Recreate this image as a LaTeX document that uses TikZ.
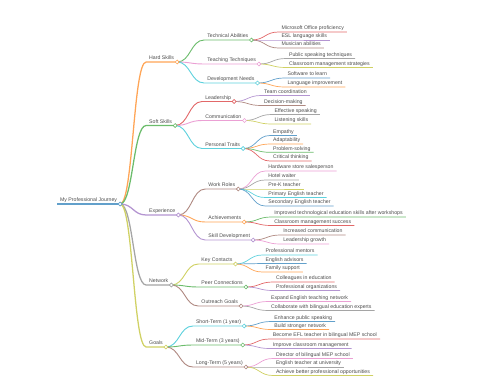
\documentclass[tikz,border=0pt]{standalone}
\usepackage{fontspec}
\setmainfont{Liberation Sans}
\usepackage{tikz}
\usetikzlibrary{calc,backgrounds}

\definecolor{mmblue}{HTML}{62A0CB}
\definecolor{mmorange}{HTML}{FFA556}
\definecolor{mmgreen}{HTML}{6BBC6B}
\definecolor{mmred}{HTML}{E26869}
\definecolor{mmpurple}{HTML}{B495D1}
\definecolor{mmbrown}{HTML}{AF8981}
\definecolor{mmpink}{HTML}{EBA0D4}
\definecolor{mmgray}{HTML}{A5A5A5}
\definecolor{mmolive}{HTML}{D0D164}
\definecolor{mmcyan}{HTML}{5DD1DD}

\begin{document}
\begin{tikzpicture}[x=0.5mm, y=-0.5mm,
    topic/.style={anchor=south west, inner xsep=4.2pt, inner ysep=2.8pt, text depth=0pt, font=\fontsize{7.4}{9}\selectfont, text=black!70},
    link/.style={to path={.. controls ($(\tikztostart)!0.5!(\tikztostart -| \tikztotarget)$) and ($(\tikztotarget)!0.5!(\tikztotarget -| \tikztostart)$) .. (\tikztotarget)}},
    l0/.style={line width=2.4pt},
    l1/.style={link, line width=1.8pt},
    l2/.style={link, line width=1.3pt},
    l3/.style={link, line width=1pt},
    dot/.style={fill=white, line width=0.9pt}
]
\useasboundingbox (0,0) rectangle (480,384);

% root and main branches
\node[topic] (root) at (57,204) {My Professional Journey};
\node[topic] (hard) at ($(root.south east)+(26,-142)$) {Hard Skills};
\node[topic] (soft) at ($(root.south east)+(26,-78.5)$) {Soft Skills};
\node[topic] (exper) at ($(root.south east)+(26,11)$) {Experience};
\node[topic] (netw) at ($(root.south east)+(26,81)$) {Network};
\node[topic] (goals) at ($(root.south east)+(26,143)$) {Goals};

% hard skills
\node[topic] (tech) at ($(hard.south east)+(27,-22)$) {Technical Abilities};
\node[topic] (teach) at ($(hard.south east)+(27,2)$) {Teaching Techniques};
\node[topic] (devn) at ($(hard.south east)+(27,21)$) {Development Needs};
\node[topic] (msoff) at ($(tech.south east)+(27,-8)$) {Microsoft Office proficiency};
\node[topic] (esl) at ($(tech.south east)+(27,0)$) {ESL language skills};
\node[topic] (music) at ($(tech.south east)+(27,8)$) {Musician abilities};
\node[topic] (pubsp) at ($(teach.south east)+(27,-5.5)$) {Public speaking techniques};
\node[topic] (clstr) at ($(teach.south east)+(27,3.5)$) {Classroom management strategies};
\node[topic] (softw) at ($(devn.south east)+(27,-5)$) {Software to learn};
\node[topic] (langi) at ($(devn.south east)+(27,4)$) {Language improvement};

% soft skills
\node[topic] (lead) at ($(soft.south east)+(27,-24)$) {Leadership};
\node[topic] (comm) at ($(soft.south east)+(27,-5)$) {Communication};
\node[topic] (pers) at ($(soft.south east)+(27,23)$) {Personal Traits};
\node[topic] (teamc) at ($(lead.south east)+(27,-6)$) {Team coordination};
\node[topic] (decis) at ($(lead.south east)+(27,4)$) {Decision-making};
\node[topic] (effsp) at ($(comm.south east)+(27,-6)$) {Effective speaking};
\node[topic] (listn) at ($(comm.south east)+(27,3.5)$) {Listening skills};
\node[topic] (empat) at ($(pers.south east)+(27,-13)$) {Empathy};
\node[topic] (adapt) at ($(pers.south east)+(27,-4.5)$) {Adaptability};
\node[topic] (probl) at ($(pers.south east)+(27,3.8)$) {Problem-solving};
\node[topic] (critt) at ($(pers.south east)+(27,12.5)$) {Critical thinking};

% experience
\node[topic] (work) at ($(exper.south east)+(27,-26)$) {Work Roles};
\node[topic] (achv) at ($(exper.south east)+(27,7)$) {Achievements};
\node[topic] (skill) at ($(exper.south east)+(27,25)$) {Skill Development};
\node[topic] (hwsal) at ($(work.south east)+(27,-18)$) {Hardware store salesperson};
\node[topic] (hotel) at ($(work.south east)+(27,-9)$) {Hotel waiter};
\node[topic] (prek) at ($(work.south east)+(27,0)$) {Pre-K teacher};
\node[topic] (prim) at ($(work.south east)+(27,8.5)$) {Primary English teacher};
\node[topic] (secon) at ($(work.south east)+(27,17)$) {Secondary English teacher};
\node[topic] (teched) at ($(achv.south east)+(27,-5)$) {Improved technological education skills after workshops};
\node[topic] (clsucc) at ($(achv.south east)+(27,3.5)$) {Classroom management success};
\node[topic] (incom) at ($(skill.south east)+(27,-5)$) {Increased communication};
\node[topic] (leadg) at ($(skill.south east)+(27,4)$) {Leadership growth};

% network
\node[topic] (key) at ($(netw.south east)+(27,-21)$) {Key Contacts};
\node[topic] (peer) at ($(netw.south east)+(27,2)$) {Peer Connections};
\node[topic] (outr) at ($(netw.south east)+(27,21)$) {Outreach Goals};
\node[topic] (mentr) at ($(key.south east)+(27,-9)$) {Professional mentors};
\node[topic] (advis) at ($(key.south east)+(27,-0.5)$) {English advisors};
\node[topic] (famil) at ($(key.south east)+(27,8)$) {Family support};
\node[topic] (collg) at ($(peer.south east)+(27,-5)$) {Colleagues in education};
\node[topic] (proforg) at ($(peer.south east)+(27,3.5)$) {Professional organizations};
\node[topic] (expnd) at ($(outr.south east)+(27,-4.5)$) {Expand English teaching network};
\node[topic] (collab) at ($(outr.south east)+(27,4.5)$) {Collaborate with bilingual education experts};

% goals
\node[topic] (short) at ($(goals.south east)+(27,-21)$) {Short-Term (1 year)};
\node[topic] (mid) at ($(goals.south east)+(27,-2)$) {Mid-Term (3 years)};
\node[topic] (long) at ($(goals.south east)+(27,20)$) {Long-Term (5 years)};
\node[topic] (enhan) at ($(short.south east)+(27,-4.5)$) {Enhance public speaking};
\node[topic] (build) at ($(short.south east)+(27,3.5)$) {Build stronger network};
\node[topic] (efl) at ($(mid.south east)+(27,-6)$) {Become EFL teacher in bilingual MEP school};
\node[topic] (imprv) at ($(mid.south east)+(27,3.5)$) {Improve classroom management};
\node[topic] (direc) at ($(long.south east)+(27,-8.5)$) {Director of bilingual MEP school};
\node[topic] (univ) at ($(long.south east)+(27,0)$) {English teacher at university};
\node[topic] (opport) at ($(long.south east)+(27,8.5)$) {Achieve better professional opportunities};

\begin{scope}[on background layer]
\draw[l0, mmblue] (root.south west) -- (root.south east);
\draw[l1, mmorange] (root.south east) to (hard.south west) -- (hard.south east);
\draw[l1, mmgreen] (root.south east) to (soft.south west) -- (soft.south east);
\draw[l1, mmpurple] (root.south east) to (exper.south west) -- (exper.south east);
\draw[l1, mmgray] (root.south east) to (netw.south west) -- (netw.south east);
\draw[l1, mmolive] (root.south east) to (goals.south west) -- (goals.south east);
% hard skills
\draw[l2, mmgreen] (hard.south east) to (tech.south west) -- (tech.south east);
\draw[l2, mmpink] (hard.south east) to (teach.south west) -- (teach.south east);
\draw[l2, mmcyan] (hard.south east) to (devn.south west) -- (devn.south east);
\draw[l3, mmred] (tech.south east) to (msoff.south west) -- (msoff.south east);
\draw[l3, mmpurple] (tech.south east) to (esl.south west) -- (esl.south east);
\draw[l3, mmbrown] (tech.south east) to (music.south west) -- (music.south east);
\draw[l3, mmgray] (teach.south east) to (pubsp.south west) -- (pubsp.south east);
\draw[l3, mmolive] (teach.south east) to (clstr.south west) -- (clstr.south east);
\draw[l3, mmblue] (devn.south east) to (softw.south west) -- (softw.south east);
\draw[l3, mmorange] (devn.south east) to (langi.south west) -- (langi.south east);
% soft skills
\draw[l2, mmred] (soft.south east) to (lead.south west) -- (lead.south east);
\draw[l2, mmpink] (soft.south east) to (comm.south west) -- (comm.south east);
\draw[l2, mmcyan] (soft.south east) to (pers.south west) -- (pers.south east);
\draw[l3, mmpurple] (lead.south east) to (teamc.south west) -- (teamc.south east);
\draw[l3, mmbrown] (lead.south east) to (decis.south west) -- (decis.south east);
\draw[l3, mmgray] (comm.south east) to (effsp.south west) -- (effsp.south east);
\draw[l3, mmolive] (comm.south east) to (listn.south west) -- (listn.south east);
\draw[l3, mmblue] (pers.south east) to (empat.south west) -- (empat.south east);
\draw[l3, mmorange] (pers.south east) to (adapt.south west) -- (adapt.south east);
\draw[l3, mmgreen] (pers.south east) to (probl.south west) -- (probl.south east);
\draw[l3, mmred] (pers.south east) to (critt.south west) -- (critt.south east);
% experience
\draw[l2, mmbrown] (exper.south east) to (work.south west) -- (work.south east);
\draw[l2, mmorange] (exper.south east) to (achv.south west) -- (achv.south east);
\draw[l2, mmpurple] (exper.south east) to (skill.south west) -- (skill.south east);
\draw[l3, mmpink] (work.south east) to (hwsal.south west) -- (hwsal.south east);
\draw[l3, mmgray] (work.south east) to (hotel.south west) -- (hotel.south east);
\draw[l3, mmolive] (work.south east) to (prek.south west) -- (prek.south east);
\draw[l3, mmcyan] (work.south east) to (prim.south west) -- (prim.south east);
\draw[l3, mmblue] (work.south east) to (secon.south west) -- (secon.south east);
\draw[l3, mmgreen] (achv.south east) to (teched.south west) -- (teched.south east);
\draw[l3, mmred] (achv.south east) to (clsucc.south west) -- (clsucc.south east);
\draw[l3, mmbrown] (skill.south east) to (incom.south west) -- (incom.south east);
\draw[l3, mmpink] (skill.south east) to (leadg.south west) -- (leadg.south east);
% network
\draw[l2, mmolive] (netw.south east) to (key.south west) -- (key.south east);
\draw[l2, mmgreen] (netw.south east) to (peer.south west) -- (peer.south east);
\draw[l2, mmbrown] (netw.south east) to (outr.south west) -- (outr.south east);
\draw[l3, mmcyan] (key.south east) to (mentr.south west) -- (mentr.south east);
\draw[l3, mmblue] (key.south east) to (advis.south west) -- (advis.south east);
\draw[l3, mmorange] (key.south east) to (famil.south west) -- (famil.south east);
\draw[l3, mmred] (peer.south east) to (collg.south west) -- (collg.south east);
\draw[l3, mmpurple] (peer.south east) to (proforg.south west) -- (proforg.south east);
\draw[l3, mmpink] (outr.south east) to (expnd.south west) -- (expnd.south east);
\draw[l3, mmgray] (outr.south east) to (collab.south west) -- (collab.south east);
% goals
\draw[l2, mmcyan] (goals.south east) to (short.south west) -- (short.south east);
\draw[l2, mmgreen] (goals.south east) to (mid.south west) -- (mid.south east);
\draw[l2, mmbrown] (goals.south east) to (long.south west) -- (long.south east);
\draw[l3, mmblue] (short.south east) to (enhan.south west) -- (enhan.south east);
\draw[l3, mmorange] (short.south east) to (build.south west) -- (build.south east);
\draw[l3, mmred] (mid.south east) to (efl.south west) -- (efl.south east);
\draw[l3, mmpurple] (mid.south east) to (imprv.south west) -- (imprv.south east);
\draw[l3, mmpink] (long.south east) to (direc.south west) -- (direc.south east);
\draw[l3, mmgray] (long.south east) to (univ.south west) -- (univ.south east);
\draw[l3, mmolive] (long.south east) to (opport.south west) -- (opport.south east);
\end{scope}

% fold circles
\foreach \n/\c in {root/mmblue, hard/mmorange, soft/mmgreen, exper/mmpurple, netw/mmgray, goals/mmolive,
    tech/mmgreen, teach/mmpink, devn/mmcyan, lead/mmred, comm/mmpink, pers/mmcyan,
    work/mmbrown, achv/mmorange, skill/mmpurple, key/mmolive, peer/mmgreen, outr/mmbrown,
    short/mmcyan, mid/mmgreen, long/mmbrown}
  \draw[dot, draw=\c] (\n.south east) circle[radius=2.8pt];
\end{tikzpicture}
\end{document}
